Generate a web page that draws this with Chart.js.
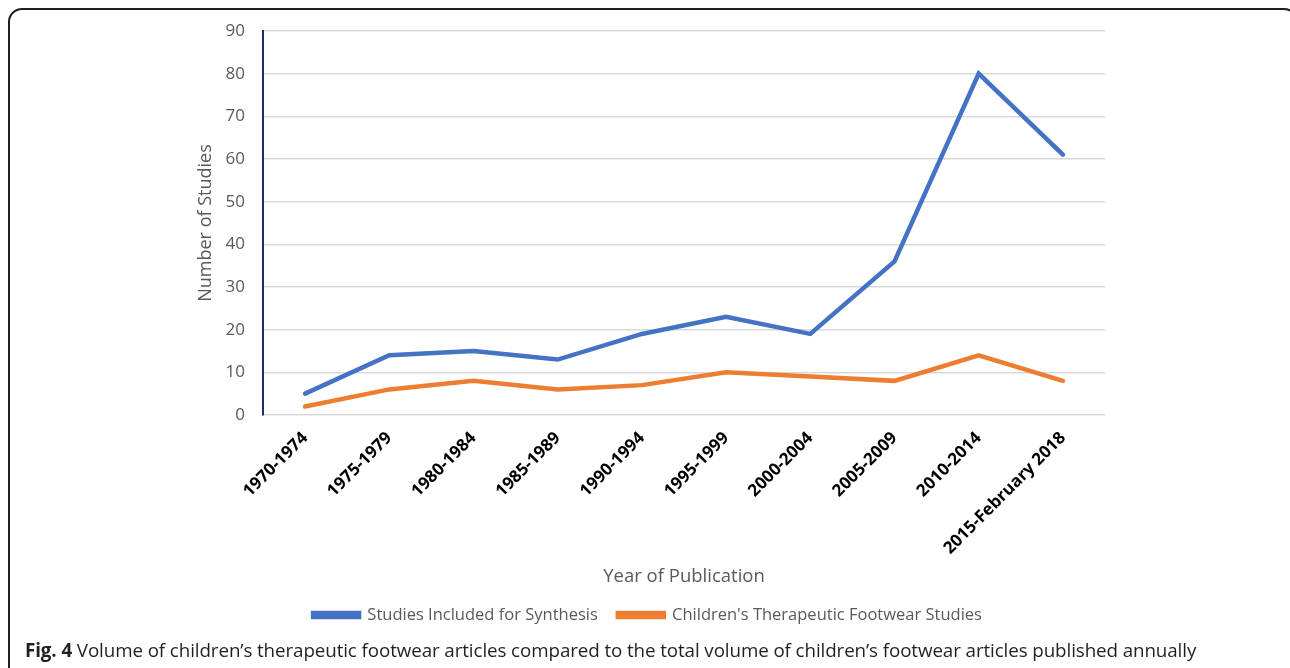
<!DOCTYPE html>
<html>
<head>
<meta charset="utf-8">
<script src="https://cdn.jsdelivr.net/npm/chart.js@4"></script>
<style>
  html, body { margin: 0; padding: 0; background: #fff; }
  body { width: 1290px; height: 668px; overflow: hidden; position: relative; font-family: "Open Sans", sans-serif; }
  #frame { position: absolute; left: 8px; top: 8px; width: 1290px; height: 700px; box-sizing: border-box;
           border: 2px solid #1e1e1e; border-radius: 14px; }
  #wrap { position: absolute; left: 0; top: 0; width: 1290px; height: 640px; }
  #caption { position: absolute; left: 25px; top: 637px; font-size: 18.8px; color: #231f20; white-space: nowrap; letter-spacing: -0.1px; }
  #caption b { font-weight: 700; }
</style>
</head>
<body>
<div id="frame"></div>
<div id="wrap"><canvas id="c"></canvas></div>
<div id="caption"><b>Fig. 4</b> Volume of children’s therapeutic footwear articles compared to the total volume of children’s footwear articles published annually</div>
<script>
const categories = ["1970-1974", "1975-1979", "1980-1984", "1985-1989", "1990-1994", "1995-1999", "2000-2004", "2005-2009", "2010-2014", "2015-February 2018"];
const studiesIncluded = [5, 14, 15, 13, 19, 23, 19, 36, 80, 61];
const therapeuticStudies = [2, 6, 8, 6, 7, 10, 9, 8, 14, 8];
const seriesNames = ["Studies Included for Synthesis", "Children's Therapeutic Footwear Studies"];
const yTitle = "Number of Studies";
const xTitle = "Year of Publication";

new Chart(document.getElementById('c'), {
  type: 'line',
  data: {
    labels: categories,
    datasets: [
      { label: seriesNames[0], data: studiesIncluded, borderColor: '#4472c4', backgroundColor: '#4472c4',
        borderWidth: 4.5, pointRadius: 0, tension: 0, borderCapStyle: 'round' },
      { label: seriesNames[1], data: therapeuticStudies, borderColor: '#ed7d31', backgroundColor: '#ed7d31',
        borderWidth: 4.5, pointRadius: 0, tension: 0, borderCapStyle: 'round' }
    ]
  },
  options: {
    responsive: true,
    maintainAspectRatio: false,
    animation: false,
    layout: { padding: { left: 190, right: 185, top: 31, bottom: 6.75 } },
    plugins: {
      tooltip: { enabled: false },
      legend: {
        position: 'bottom',
        labels: {
          boxWidth: 46, boxHeight: 4, padding: 20,
          color: '#595959',
          font: { family: 'Open Sans', size: 16.5 }
        }
      }
    },
    scales: {
      x: {
        offset: true,
        grid: { display: false, drawTicks: false },
        border: { display: false },
        ticks: {
          minRotation: 45, maxRotation: 45, autoSkip: false, padding: 13,
          color: '#000', font: { family: 'Open Sans', size: 17, weight: 'bold' }
        },
        title: { display: true, text: xTitle, color: '#595959', font: { family: 'Open Sans', size: 18.5 },
                 padding: { top: 0, bottom: -1.5 } },
        afterFit: (s) => { s.height = 171.75; }
      },
      y: {
        min: 0, max: 90,
        grid: { color: '#d9d9d9', lineWidth: 1.5, drawTicks: false },
        border: { display: true, color: '#1c2d6e', width: 2 },
        ticks: { stepSize: 10, padding: 18, color: '#595959', font: { family: 'Open Sans', size: 17 } },
        title: { display: true, text: yTitle, color: '#595959', font: { family: 'Open Sans', size: 18 },
                 padding: { top: 5.2, bottom: 0 } },
        afterFit: (s) => { s.width = 73; }
      }
    }
  }
});
</script>
</body>
</html>
